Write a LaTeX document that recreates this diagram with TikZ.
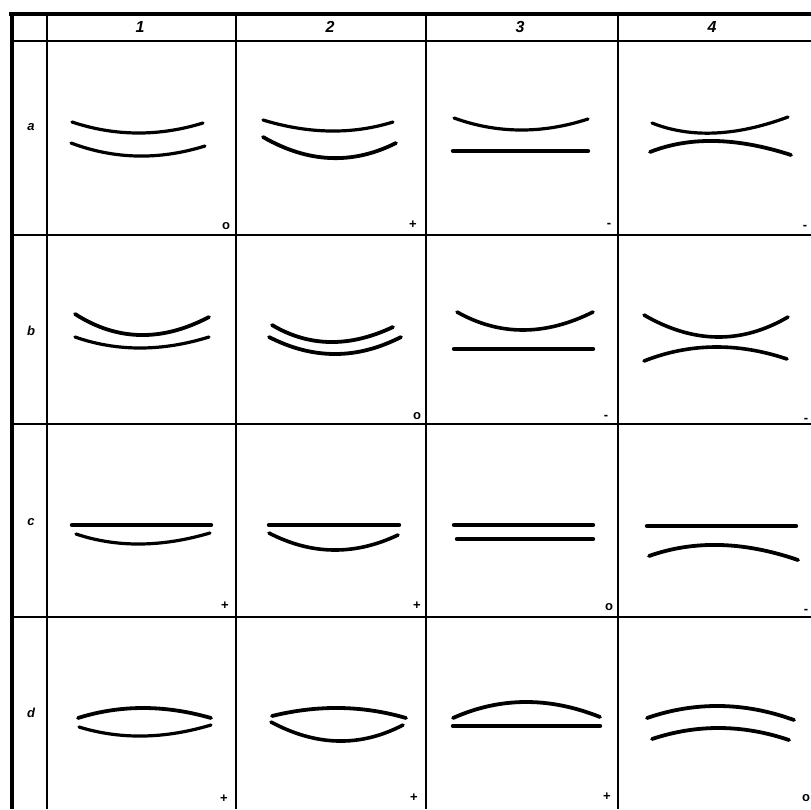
\documentclass[tikz,border=0pt]{standalone}
\usepackage{fontspec}
\setmainfont{Liberation Sans}
\usetikzlibrary{calc}
\tikzset{
  grid/.style={line width=1.6pt},
  border/.style={line width=4.5pt},
  curve/.style={line width=3.2pt, line cap=round},
  flat/.style={line width=4.4pt, line cap=round},
  head/.style={font=\fontsize{16}{16}\selectfont\bfseries\itshape, inner sep=0pt},
  rowlab/.style={font=\fontsize{13}{13}\selectfont\bfseries\itshape, inner sep=0pt},
  sign/.style={font=\fontsize{13}{13}\selectfont\bfseries, inner sep=0pt},
}
\newcommand{\qcurve}[4][]{%
  \coordinate (qctl) at ($2*(#3)-0.5*(#2)-0.5*(#4)$);
  \draw[curve,#1] (#2) .. controls ($(#2)!2/3!(qctl)$) and ($(#4)!2/3!(qctl)$) .. (#4);}
\begin{document}
\begin{tikzpicture}[x=1pt,y=-1pt]
\useasboundingbox (0,0) rectangle (811,809);
% frame
\draw[border] (9,14) -- (811,14);
\draw[border] (12,12) -- (12,809);
\draw[grid] (12,41) -- (811,41);
\foreach \x in {47,236,426,618} \draw[grid] (\x,14) -- (\x,809);
\foreach \y in {235,424,617} \draw[grid] (12,\y) -- (811,\y);
% headers
\node[head] (h1) at (140,27) {1};
\node[head] (h2) at (330,27) {2};
\node[head] (h3) at (520,27) {3};
\node[head] (h4) at (712,27) {4};
\node[rowlab] (ra) at (31,127) {a};
\node[rowlab] (rb) at (31,331) {b};
\node[rowlab] (rc) at (31,522) {c};
\node[rowlab] (rd) at (31,713) {d};
% signs
\node[sign] (sa1) at (226,226) {o};
\node[sign] (sa2) at (413,225) {+};
\node[sign] (sa3) at (609,225) {-};
\node[sign] (sa4) at (805,227) {-};
\node[sign] (sb2) at (417,416) {o};
\node[sign] (sb3) at (606,417) {-};
\node[sign] (sb4) at (806,420) {-};
\node[sign] (sc1) at (225,606) {+};
\node[sign] (sc2) at (417,606) {+};
\node[sign] (sc3) at (609,607) {o};
\node[sign] (sc4) at (806,611) {-};
\node[sign] (sd1) at (224,799) {+};
\node[sign] (sd2) at (414,798) {+};
\node[sign] (sd3) at (607,797) {+};
\node[sign] (sd4) at (806,798) {o};
% row a
\qcurve{72,122}{137,133}{203,123}
\qcurve{71,143}{137,156}{205,146}
\qcurve{263,120}{330,131}{393,122}
\qcurve[line width=3.8pt]{263,137}{330,158}{396,143}
\qcurve{454,118}{520,130}{588,119}
\draw[flat] (453,151) -- (588,151);
\qcurve{652,123}{715,133}{788,117}
\qcurve[line width=3.8pt]{650,152}{715,141}{791,155}
% row b
\qcurve[line width=3.8pt]{75,314}{140,335}{209,317}
\qcurve{75,337}{140,348}{209,337}
\qcurve[line width=3.8pt]{272,325}{330,342}{393,327}
\qcurve[line width=3.8pt]{269,337}{335,354}{401,337}
\qcurve[line width=3.6pt]{457,312}{523,330}{593,312}
\draw[flat] (454,349) -- (593,349);
\qcurve[line width=3.6pt]{644,315}{717,337}{788,317}
\qcurve[line width=3.6pt]{644,361}{714,347}{787,359}
% row c
\draw[flat] (72,525) -- (211,525);
\qcurve{76,534}{140,544}{210,533}
\draw[flat] (269,525) -- (399,525);
\qcurve[line width=3.6pt]{269,533}{333,550}{398,535}
\draw[flat] (454,525) -- (593,525);
\draw[flat] (457,539) -- (593,539);
\draw[flat] (647,526) -- (796,526);
\qcurve[line width=3.8pt]{649,556}{720,545}{798,560}
% row d
\qcurve[line width=3.8pt]{78,718}{143,708}{211,718}
\qcurve{79,727}{143,736}{211,725}
\qcurve[line width=3.8pt]{272,716}{340,708}{406,718}
\qcurve[line width=3.6pt]{271,722}{338,741}{403,725}
\qcurve[line width=3.8pt]{453,718}{525,702}{600,717}
\draw[flat] (453,726) -- (600,726);
\qcurve[line width=3.8pt]{647,718}{720,706}{794,720}
\qcurve[line width=3.8pt]{652,739}{720,728}{789,740}
\end{tikzpicture}
\end{document}
